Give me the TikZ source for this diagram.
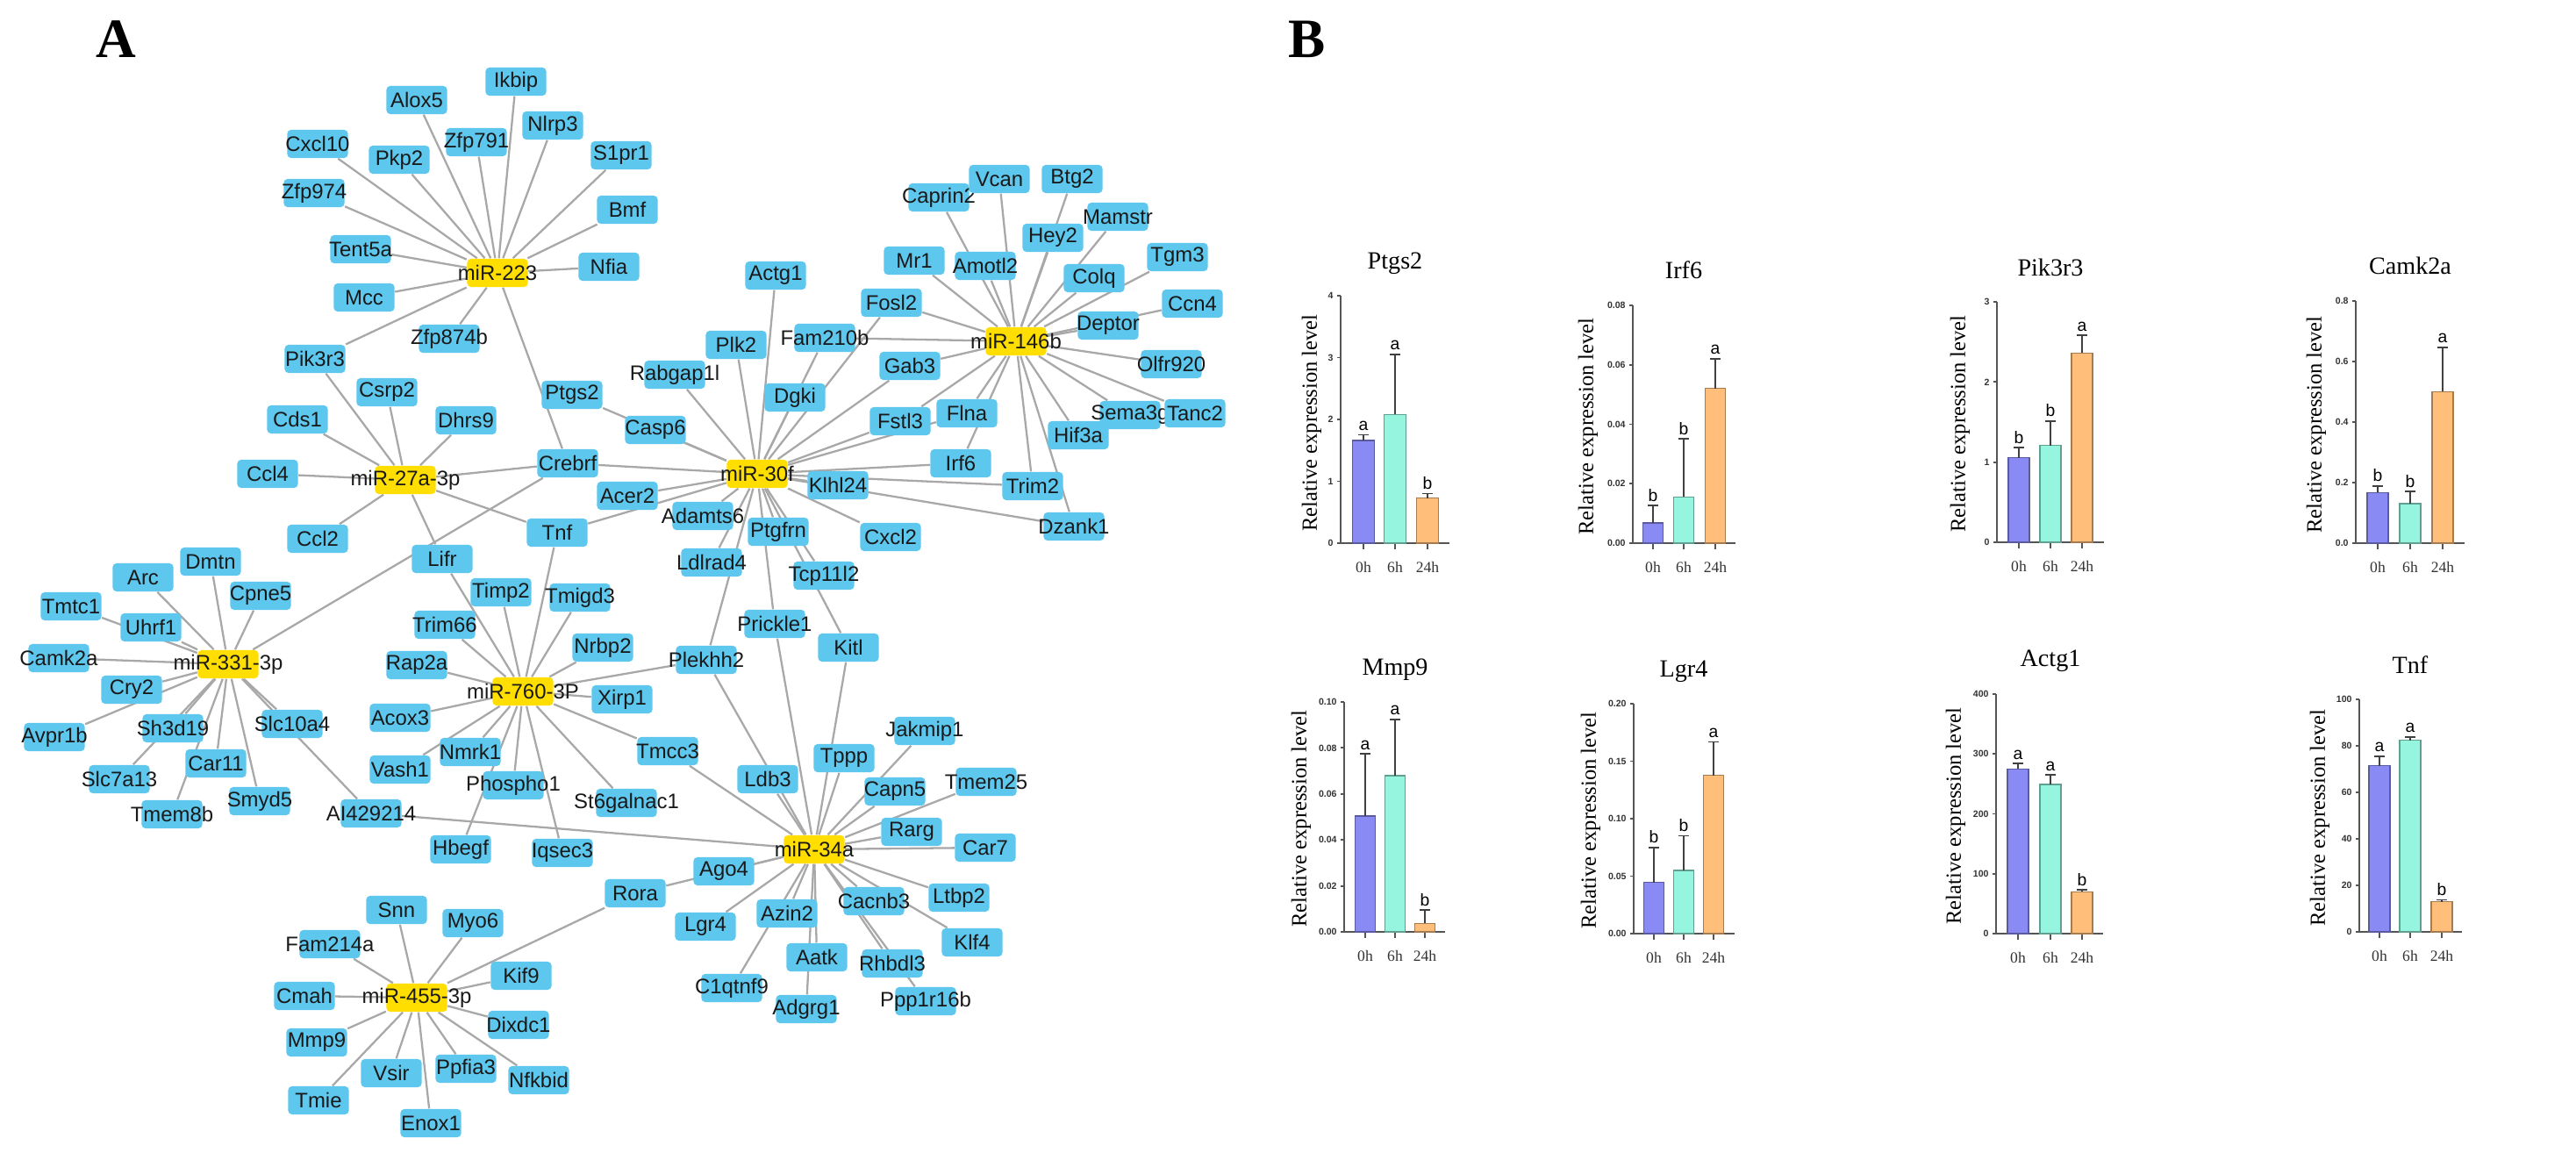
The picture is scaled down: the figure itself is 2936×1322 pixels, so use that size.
\documentclass[tikz,border=0pt]{standalone}
\usepackage{fontspec}
\setmainfont{Liberation Serif}
\setsansfont{Liberation Sans}
\pgfdeclarelayer{bg}
\pgfdeclarelayer{edges}
\pgfsetlayers{bg,edges,main}
\definecolor{nodeblue}{RGB}{94,199,238}
\definecolor{miryellow}{RGB}{255,222,0}
\definecolor{edgegray}{RGB}{168,168,168}
\definecolor{barA}{RGB}{138,138,245}
\definecolor{barB}{RGB}{150,245,222}
\definecolor{barC}{RGB}{255,190,122}
\definecolor{axisgray}{RGB}{85,85,85}
\tikzset{
  gene/.style={fill=nodeblue, rounded corners=1.2pt, minimum height=0.32cm, inner sep=0pt,
    font=\sffamily\fontsize{6.8}{7}\selectfont, text=black!90},
  mir/.style={gene, fill=miryellow},
  edge/.style={draw=edgegray, line width=0.65pt},
  panel/.style={font=\bfseries\fontsize{18}{20}\selectfont},
  axisl/.style={draw=axisgray, line width=0.55pt},
  ytick/.style={anchor=east, inner sep=1pt, font=\sffamily\bfseries\fontsize{3}{3.5}\selectfont, text=black!80},
  xtick/.style={font=\fontsize{5}{6}\selectfont, text=black!80},
  ylab/.style={rotate=90, font=\fontsize{7}{8}\selectfont},
  ctitle/.style={font=\fontsize{8}{9}\selectfont},
  sig/.style={anchor=base, inner sep=0pt, font=\sffamily\fontsize{5.5}{6}\selectfont},
  errb/.style={draw=black!75, line width=0.5pt},
}
\newcommand\mb[1]{\makebox[0.69cm]{#1}}
\newcommand\G[3]{\node[gene] (#1) at (#2,#3) {\mb{#1}};}
\newcommand\onebar[5]{%
  \pgfmathsetmacro\mybt{-(#2)/\cmax*\cH}%
  \pgfmathsetmacro\myet{-(#2+#3)/\cmax*\cH}%
  \filldraw[fill=#5, draw=#5!65!black, line width=0.4pt] ({#1-\bw/2},0) rectangle ({#1+\bw/2},\mybt);
  \draw[errb] (#1,\mybt) -- (#1,\myet) ({#1-6},\myet) -- ({#1+6},\myet);
  \node[sig] at (#1,{\myet-5}) {#4};
}
\newcommand\drawaxes[6]{%
  \pgfmathsetmacro\tstep{\cH/#1}%
  \draw[axisl] (0,-\cH) -- (0,0) -- (#3,0);
  \foreach \lab [count=\k from 0] in {#2} {\draw[axisl] (0,-\k*\tstep) -- (-4,-\k*\tstep) node[ytick] {\lab};}
  \foreach \bx/\bl in {#4/0h,#5/6h,#6/24h} {\draw[axisl] (\bx,0) -- (\bx,7); \node[xtick] at (\bx,27) {\bl};}
}
\begin{document}
\begin{tikzpicture}[x=0.01cm,y=-0.01cm]
\useasboundingbox (0,0) rectangle (2936,1322);
\begin{pgfonlayer}{bg}
\fill[white] (0,0) rectangle (2936,1322);
\end{pgfonlayer}
\node[panel] (labA) at (132,45) {A};
\node[panel] (labB) at (1490,45) {B};
% ---------- miRNA nodes
\node[mir] (m223) at (567,311) {\mb{miR-223}};
\node[mir] (m146b) at (1158,389) {\mb{miR-146b}};
\node[mir] (m27a) at (462,547) {\mb{miR-27a-3p}};
\node[mir] (m30f) at (863,540) {\mb{miR-30f}};
\node[mir] (m331) at (260,757) {\mb{miR-331-3p}};
\node[mir] (m760) at (596,788) {\mb{miR-760-3P}};
\node[mir] (m34a) at (928,968) {\mb{miR-34a}};
\node[mir] (m455) at (475,1137) {\mb{miR-455-3p}};
% ---------- gene nodes
\G{Ikbip}{588}{93}
\G{Alox5}{475}{114}
\G{Nlrp3}{630}{143}
\G{Zfp791}{543}{162}
\G{Cxcl10}{362}{164}
\G{Pkp2}{455}{182}
\G{S1pr1}{708}{177}
\G{Zfp974}{358}{220}
\G{Bmf}{715}{239}
\G{Tent5a}{411}{284}
\G{Nfia}{694}{304}
\G{Mcc}{415}{339}
\G{Zfp874b}{512}{386}
\G{Pik3r3}{359}{409}
\G{Caprin2}{1070}{225}
\G{Vcan}{1139}{204}
\G{Btg2}{1222}{204}
\G{Mamstr}{1274}{247}
\G{Hey2}{1200}{271}
\G{Mr1}{1042}{297}
\G{Amotl2}{1123}{303}
\G{Colq}{1247}{317}
\G{Tgm3}{1342}{293}
\G{Ccn4}{1359}{346}
\G{Actg1}{884}{314}
\G{Fosl2}{1016}{345}
\G{Deptor}{1263}{371}
\G{Fam210b}{940}{385}
\G{Plk2}{839}{393}
\G{Gab3}{1037}{417}
\G{Olfr920}{1335}{415}
\G{Rabgap1l}{769}{427}
\G{Csrp2}{441}{447}
\G{Ptgs2}{652}{450}
\G{Dgki}{906}{453}
\G{Cds1}{339}{478}
\G{Dhrs9}{531}{479}
\G{Fstl3}{1026}{480}
\G{Flna}{1102}{471}
\G{Sema3g}{1288}{473}
\G{Tanc2}{1362}{471}
\G{Casp6}{747}{490}
\G{Hif3a}{1229}{496}
\G{Crebrf}{647}{528}
\G{Irf6}{1095}{528}
\G{Ccl4}{305}{540}
\G{Klhl24}{955}{553}
\G{Trim2}{1177}{554}
\G{Acer2}{715}{565}
\G{Adamts6}{801}{588}
\G{Dzank1}{1224}{600}
\G{Tnf}{635}{607}
\G{Ptgfrn}{887}{606}
\G{Cxcl2}{1015}{612}
\G{Ccl2}{362}{614}
\G{Lifr}{504}{637}
\G{Dmtn}{240}{640}
\G{Ldlrad4}{811}{641}
\G{Tcp11l2}{939}{656}
\G{Arc}{163}{658}
\G{Timp2}{571}{675}
\G{Cpne5}{297}{679}
\G{Tmigd3}{661}{681}
\G{Tmtc1}{81}{691}
\G{Prickle1}{883}{711}
\G{Trim66}{507}{712}
\G{Uhrf1}{172}{715}
\G{Kitl}{967}{738}
\G{Nrbp2}{687}{738}
\G{Camk2a}{67}{750}
\G{Plekhh2}{805}{752}
\G{Rap2a}{475}{758}
\G{Cry2}{150}{786}
\G{Xirp1}{709}{797}
\G{Acox3}{456}{818}
\G{Slc10a4}{333}{825}
\G{Sh3d19}{197}{830}
\G{Jakmip1}{1054}{833}
\G{Avpr1b}{62}{840}
\G{Tmcc3}{761}{856}
\G{Nmrk1}{536}{857}
\G{Tppp}{962}{864}
\G{Car11}{246}{870}
\G{Vash1}{456}{877}
\G{Ldb3}{875}{888}
\G{Slc7a13}{136}{888}
\G{Tmem25}{1124}{891}
\G{Phospho1}{585}{895}
\G{Capn5}{1020}{902}
\G{Smyd5}{296}{913}
\G{St6galnac1}{714}{915}
\G{AI429214}{423}{927}
\G{Tmem8b}{196}{928}
\G{Rarg}{1039}{948}
\G{Car7}{1123}{966}
\G{Hbegf}{525}{968}
\G{Iqsec3}{641}{972}
\G{Ago4}{825}{993}
\G{Rora}{724}{1018}
\G{Ltbp2}{1093}{1023}
\G{Cacnb3}{996}{1027}
\G{Azin2}{897}{1041}
\G{Snn}{452}{1037}
\G{Myo6}{539}{1052}
\G{Lgr4}{804}{1056}
\G{Klf4}{1108}{1074}
\G{Fam214a}{376}{1076}
\G{Aatk}{931}{1091}
\G{Rhbdl3}{1017}{1098}
\G{Kif9}{594}{1112}
\G{C1qtnf9}{834}{1126}
\G{Cmah}{347}{1135}
\G{Ppp1r16b}{1055}{1141}
\G{Adgrg1}{919}{1150}
\G{Dixdc1}{591}{1168}
\G{Mmp9}{361}{1188}
\G{Ppfia3}{531}{1218}
\G{Vsir}{446}{1223}
\G{Nfkbid}{614}{1231}
\G{Tmie}{363}{1254}
\G{Enox1}{491}{1280}
% ---------- edges
\begin{pgfonlayer}{edges}
\foreach \g in {Ikbip,Alox5,Nlrp3,Zfp791,Cxcl10,Pkp2,S1pr1,Zfp974,Bmf,Tent5a,Nfia,Mcc,Zfp874b,Pik3r3,Crebrf}
  \draw[edge] (m223) -- (\g);
\foreach \g in {Pik3r3,Csrp2,Cds1,Dhrs9,Ccl4,Crebrf,Ccl2,Lifr,Tnf}
  \draw[edge] (m27a) -- (\g);
\foreach \g in {Rabgap1l,Plk2,Actg1,Dgki,Fam210b,Fosl2,Gab3,Fstl3,Flna,Ptgs2,Casp6,Crebrf,Irf6,Klhl24,Trim2,Dzank1,Acer2,Adamts6,Tnf,Ptgfrn,Cxcl2,Ldlrad4,Plekhh2,Tcp11l2,Kitl,Prickle1}
  \draw[edge] (m30f) -- (\g);
\foreach \g in {Caprin2,Vcan,Btg2,Mamstr,Hey2,Mr1,Amotl2,Colq,Tgm3,Ccn4,Deptor,Olfr920,Sema3g,Tanc2,Hif3a,Trim2,Dzank1,Irf6,Flna,Fstl3,Gab3,Fam210b,Fosl2}
  \draw[edge] (m146b) -- (\g);
\foreach \g in {Dmtn,Arc,Cpne5,Tmtc1,Uhrf1,Camk2a,Cry2,Avpr1b,Sh3d19,Slc7a13,Car11,Tmem8b,Smyd5,Slc10a4,AI429214,Crebrf}
  \draw[edge] (m331) -- (\g);
\foreach \g in {Lifr,Timp2,Tnf,Tmigd3,Trim66,Nrbp2,Rap2a,Plekhh2,Xirp1,Acox3,Vash1,Nmrk1,Phospho1,Hbegf,Iqsec3,St6galnac1,Tmcc3}
  \draw[edge] (m760) -- (\g);
\foreach \g in {Tmcc3,Ldb3,Plekhh2,Prickle1,Kitl,Tppp,Jakmip1,Capn5,Tmem25,Rarg,Car7,Ltbp2,Klf4,Cacnb3,Rhbdl3,Ppp1r16b,Aatk,Adgrg1,Azin2,C1qtnf9,Lgr4,Ago4,Rora,AI429214}
  \draw[edge] (m34a) -- (\g);
\foreach \g in {Snn,Myo6,Fam214a,Kif9,Cmah,Dixdc1,Mmp9,Vsir,Ppfia3,Nfkbid,Tmie,Enox1,Rora}
  \draw[edge] (m455) -- (\g);
\end{pgfonlayer}
% ---------- panel B charts
\begin{scope}[shift={(1528,619)}]
  \def\cmax{4}\def\cH{282}\def\bw{25}
  \drawaxes{4}{0,1,2,3,4}{124}{26}{62}{99}
  \onebar{26}{1.66}{0.09}{a}{barA}
  \onebar{62}{2.08}{0.97}{a}{barB}
  \onebar{99}{0.73}{0.07}{b}{barC}
  \node[ylab] (yl1) at (-33,-137) {Relative expression level};
  \node[ctitle] (t1) at (62,-319) {Ptgs2};
\end{scope}
\begin{scope}[shift={(1861,619)}]
  \def\cmax{0.08}\def\cH{271}\def\bw{23}
  \drawaxes{4}{0.00,0.02,0.04,0.06,0.08}{117}{23}{58}{94}
  \onebar{23}{0.0068}{0.0058}{b}{barA}
  \onebar{58}{0.0155}{0.0196}{b}{barB}
  \onebar{94}{0.0521}{0.0100}{a}{barC}
  \node[ylab] (yl2) at (-51,-133) {Relative expression level};
  \node[ctitle] (t2) at (58,-311) {Irf6};
\end{scope}
\begin{scope}[shift={(2276,618)}]
  \def\cmax{3}\def\cH{274}\def\bw{24}
  \drawaxes{3}{0,1,2,3}{122}{25}{61}{97}
  \onebar{25}{1.054}{0.126}{b}{barA}
  \onebar{61}{1.207}{0.304}{b}{barB}
  \onebar{97}{2.36}{0.22}{a}{barC}
  \node[ylab] (yl3) at (-42,-135) {Relative expression level};
  \node[ctitle] (t3) at (61,-313) {Pik3r3};
\end{scope}
\begin{scope}[shift={(2685,619)}]
  \def\cmax{0.8}\def\cH{276}\def\bw{24}
  \drawaxes{4}{0.0,0.2,0.4,0.6,0.8}{124}{25}{62}{99}
  \onebar{25}{0.167}{0.022}{b}{barA}
  \onebar{62}{0.131}{0.039}{b}{barB}
  \onebar{99}{0.500}{0.147}{a}{barC}
  \node[ylab] (yl4) at (-45,-135) {Relative expression level};
  \node[ctitle] (t4) at (62,-316) {Camk2a};
\end{scope}
\begin{scope}[shift={(1532,1062)}]
  \def\cmax{0.10}\def\cH{262}\def\bw{23}
  \drawaxes{5}{0.00,0.02,0.04,0.06,0.08,0.10}{115}{24}{58}{92}
  \onebar{24}{0.0504}{0.027}{a}{barA}
  \onebar{58}{0.0679}{0.0245}{a}{barB}
  \onebar{92}{0.0037}{0.0058}{b}{barC}
  \node[ylab] (yl5) at (-49,-129) {Relative expression level};
  \node[ctitle] (t5) at (58,-299) {Mmp9};
\end{scope}
\begin{scope}[shift={(1862,1064)}]
  \def\cmax{0.20}\def\cH{262}\def\bw{23}
  \drawaxes{4}{0.00,0.05,0.10,0.15,0.20}{115}{23}{57}{91}
  \onebar{23}{0.0445}{0.0305}{b}{barA}
  \onebar{57}{0.0551}{0.030}{b}{barB}
  \onebar{91}{0.1377}{0.029}{a}{barC}
  \node[ylab] (yl6) at (-49,-129) {Relative expression level};
  \node[ctitle] (t6) at (57,-299) {Lgr4};
\end{scope}
\begin{scope}[shift={(2275,1064)}]
  \def\cmax{400}\def\cH{273}\def\bw{24}
  \drawaxes{4}{0,100,200,300,400}{122}{25}{62}{98}
  \onebar{25}{275}{9}{a}{barA}
  \onebar{62}{249}{16}{a}{barB}
  \onebar{98}{70}{3}{b}{barC}
  \node[ylab] (yl7) at (-46,-134) {Relative expression level};
  \node[ctitle] (t7) at (62,-311) {Actg1};
\end{scope}
\begin{scope}[shift={(2689,1062)}]
  \def\cmax{100}\def\cH{265}\def\bw{24}
  \drawaxes{5}{0,20,40,60,80,100}{117}{23}{58}{94}
  \onebar{23}{71.4}{4.1}{a}{barA}
  \onebar{58}{82.4}{1.5}{a}{barB}
  \onebar{94}{13.0}{0.8}{b}{barC}
  \node[ylab] (yl8) at (-45,-130) {Relative expression level};
  \node[ctitle] (t8) at (58,-304) {Tnf};
\end{scope}
\end{tikzpicture}
\end{document}
